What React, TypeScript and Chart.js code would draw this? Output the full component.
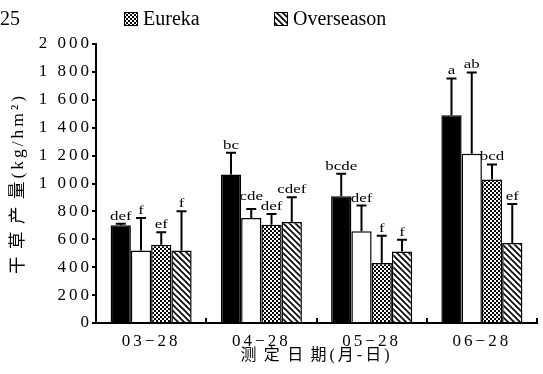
import React, { useEffect, useRef } from 'react';
import { Chart, registerables } from 'chart.js';

Chart.register(...registerables);

// ---------- data ----------
const categories = ['03−28', '04−28', '05−28', '06−28'];
const seriesNames = ['Series 1', 'Series 2', 'Eureka', 'Overseason'];

const series1 = [700, 1065, 909, 1489];
const series2 = [520, 753, 657, 1213];
const series3 = [561, 705, 430, 1029];
const series4 = [520, 724, 513, 573];

const series1Err = [12, 155, 161, 264];
const series2Err = [233, 65, 185, 583];
const series3Err = [89, 77, 196, 108];
const series4Err = [281, 177, 84, 280];

const series1Sig = ['def', 'bc', 'bcde', 'a'];
const series2Sig = ['f', 'cde', 'def', 'ab'];
const series3Sig = ['ef', 'def', 'f', 'bcd'];
const series4Sig = ['f', 'cdef', 'f', 'ef'];

const legendShown = [2, 3];
const cornerText = '25';

const xTitle = '测\u200A定\u200A日\u200A期(月-日)';
const yTitle = '干\u200A草\u200A产\u200A量(kg/hm²)';

const yMin = 0;
const yMax = 2000;
const yStep = 200;

const FONT = '"Liberation Serif", "Times New Roman", "Noto Sans CJK SC", serif';

function fmtTick(v: number): string {
  if (v >= 1000) {
    const th = Math.floor(v / 1000);
    const rest = String(v % 1000).padStart(3, '0');
    return th + ' ' + rest;
  }
  return String(v);
}

function makeCheck(): CanvasPattern | string {
  const c = document.createElement('canvas');
  c.width = 4;
  c.height = 4;
  const g = c.getContext('2d');
  if (!g) return '#888';
  g.fillStyle = '#fff';
  g.fillRect(0, 0, 4, 4);
  g.fillStyle = '#000';
  g.fillRect(0, 0, 2, 2);
  g.fillRect(2, 2, 2, 2);
  return g.createPattern(c, 'repeat') || '#888';
}

function makeHatch(): CanvasPattern | string {
  const s = 6;
  const c = document.createElement('canvas');
  c.width = s;
  c.height = s;
  const g = c.getContext('2d');
  if (!g) return '#ccc';
  g.fillStyle = '#fff';
  g.fillRect(0, 0, s, s);
  g.strokeStyle = '#000';
  g.lineWidth = 1.6;
  g.beginPath();
  for (const k of [-s, 0, s]) {
    g.moveTo(k - 1, -1);
    g.lineTo(k + s + 1, s + 1);
  }
  g.stroke();
  return g.createPattern(c, 'repeat') || '#ccc';
}

export default function App() {
  const ref = useRef<HTMLCanvasElement | null>(null);

  useEffect(() => {
    const canvas = ref.current;
    if (!canvas) return;
    const check = makeCheck();
    const hatch = makeHatch();

    const values = [series1, series2, series3, series4];
    const errs = [series1Err, series2Err, series3Err, series4Err];
    const sigs = [series1Sig, series2Sig, series3Sig, series4Sig];
    const fills: any[] = ['#000', '#fff', check, hatch];

    const spacingPlugin = {
      id: 'spacing',
      beforeDraw(chart: any) {
        (chart.ctx as any).letterSpacing = '3px';
      },
      afterDatasetsDraw(chart: any) {
        const ctx = chart.ctx;
        (ctx as any).letterSpacing = '0px';
        const yScale = chart.scales.y;

        // error bars
        ctx.save();
        ctx.strokeStyle = '#000';
        ctx.lineWidth = 2;
        const boxes: any[][] = categories.map(() => []);
        for (let d = 0; d < values.length; d++) {
          const meta = chart.getDatasetMeta(d);
          meta.data.forEach((el: any, i: number) => {
            const v = values[d][i];
            const top = yScale.getPixelForValue(v + errs[d][i]);
            ctx.beginPath();
            ctx.moveTo(el.x, el.y);
            ctx.lineTo(el.x, top);
            ctx.moveTo(el.x - 5, top);
            ctx.lineTo(el.x + 5, top);
            ctx.stroke();
            boxes[i].push({ x: el.x, base: top - 4, text: sigs[d][i] });
          });
        }
        ctx.restore();

        // significance letters
        ctx.save();
        ctx.fillStyle = '#000';
        ctx.font = `13px ${FONT}`;
        ctx.textAlign = 'center';
        ctx.textBaseline = 'alphabetic';
        const sx = 1.3;
        boxes.forEach((group) => {
          group.forEach((b) => {
            b.w = ctx.measureText(b.text).width * sx;
            b.h = 9;
          });
          for (let i = group.length - 2; i >= 0; i--) {
            const a = group[i];
            const n = group[i + 1];
            const hOverlap = a.x + a.w / 2 > n.x - n.w / 2 && n.x + n.w / 2 > a.x - a.w / 2;
            const vOverlap = a.base > n.base - n.h && n.base > a.base - a.h;
            if (hOverlap && vOverlap) a.base = n.base - n.h - 1;
          }
          group.forEach((b) => {
            ctx.save();
            ctx.translate(b.x, b.base);
            ctx.scale(sx, 1);
            ctx.fillText(b.text, 0, 0);
            ctx.restore();
          });
        });
        ctx.restore();

        // legend
        ctx.save();
        ctx.font = `20px ${FONT}`;
        ctx.fillStyle = '#000';
        ctx.textBaseline = 'alphabetic';
        ctx.textAlign = 'left';
        ctx.fillText(cornerText, 0, 25);
        const legendX = [124, 274];
        legendShown.forEach((d, k) => {
          const x = legendX[k];
          ctx.fillStyle = fills[d];
          ctx.fillRect(x, 12, 13, 13);
          ctx.strokeStyle = '#000';
          ctx.lineWidth = 1;
          ctx.strokeRect(x + 0.5, 12.5, 13, 13);
          ctx.fillStyle = '#000';
          ctx.fillText(seriesNames[d], x + 19, 25);
        });
        ctx.restore();
      },
    };

    const chart = new Chart(canvas, {
      type: 'bar',
      data: {
        labels: categories,
        datasets: values.map((vals, d) => ({
          label: seriesNames[d],
          data: vals,
          backgroundColor: fills[d],
          borderColor: '#000',
          borderWidth: 1.5,
          categoryPercentage: 0.735,
          barPercentage: 1,
        })),
      },
      options: {
        responsive: false,
        animation: false,
        layout: { padding: { top: 44, right: 6, left: 0, bottom: 0 } },
        plugins: {
          legend: { display: false },
          tooltip: { enabled: false },
        },
        scales: {
          x: {
            grid: {
              display: true,
              drawOnChartArea: false,
              offset: true,
              tickLength: -5,
              color: '#000',
              lineWidth: 2,
            },
            border: { display: true, color: '#000', width: 2 },
            ticks: {
              color: '#000',
              font: { family: FONT, size: 17 },
              padding: 13,
              maxRotation: 0,
            },
            title: {
              display: true,
              text: xTitle,
              color: '#000',
              font: { family: FONT, size: 16 },
              padding: { top: 0, bottom: 9 },
            },
            afterFit: (s: any) => {
              s.height = 51;
            },
          },
          y: {
            min: yMin,
            max: yMax,
            ticks: {
              stepSize: yStep,
              color: '#000',
              font: { family: FONT, size: 17 },
              padding: 0,
              callback: (v: any) => fmtTick(Number(v)),
            },
            grid: {
              drawOnChartArea: false,
              tickLength: 4,
              color: '#000',
              lineWidth: 2,
            },
            border: { display: true, color: '#000', width: 2 },
            title: {
              display: true,
              text: yTitle,
              color: '#000',
              font: { family: FONT, size: 17.5 },
              padding: { top: 8, bottom: 0 },
            },
            afterFit: (s: any) => {
              s.width = 96;
            },
          },
        },
      },
      plugins: [spacingPlugin],
    } as any);

    return () => {
      chart.destroy();
    };
  }, []);

  return (
    <div style={{ position: 'absolute', left: 0, top: 0, width: 543, height: 374, background: '#fff' }}>
      <canvas ref={ref} width={543} height={374} style={{ display: 'block' }} />
    </div>
  );
}
